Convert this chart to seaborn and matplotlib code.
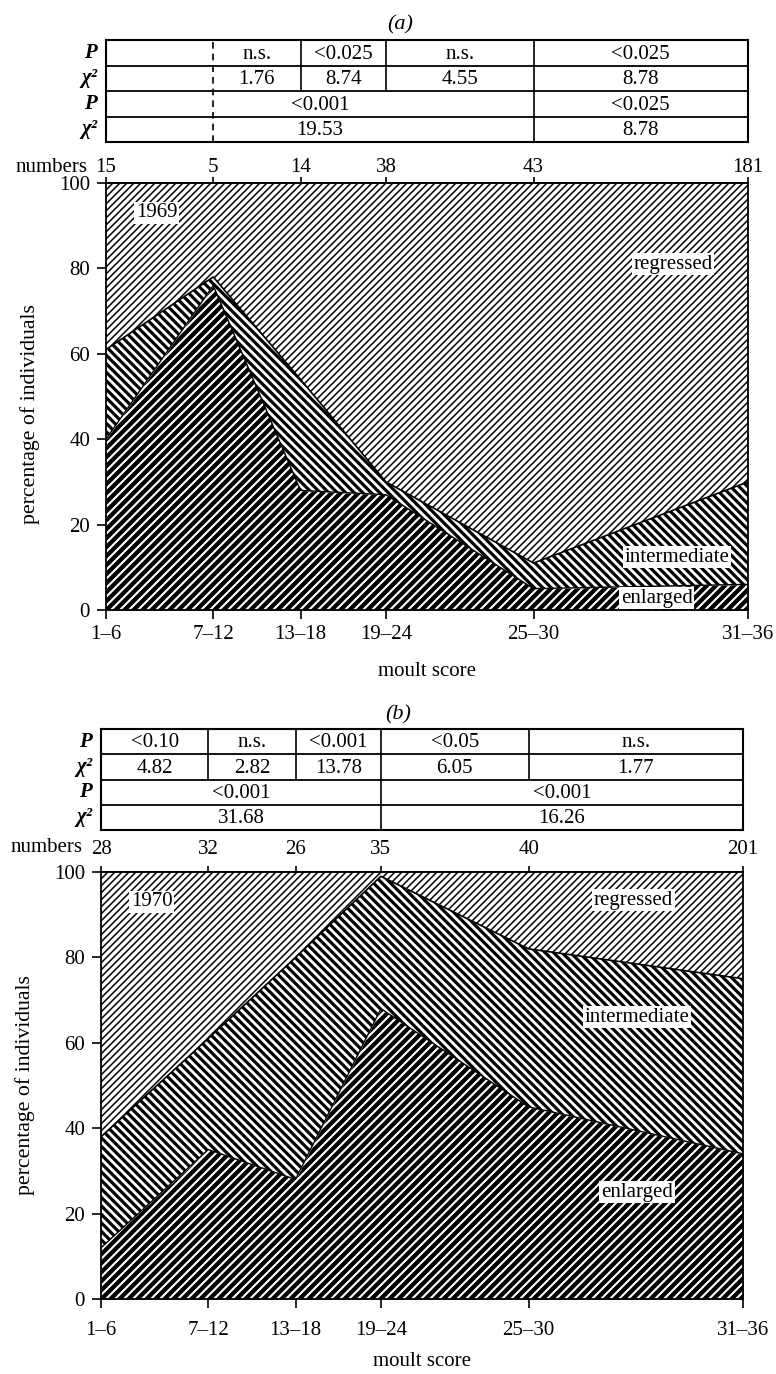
import matplotlib
matplotlib.use("Agg")
import matplotlib.pyplot as plt
from matplotlib.collections import LineCollection
import seaborn as sns

# moult score classes and their (non-linear) positions along the x axis
moult_scores = ["1–6", "7–12", "13–18", "19–24", "25–30", "31–36"]
score_pos = [0.0, 0.167, 0.303, 0.436, 0.666, 1.0]

# 1969 (a)
numbers_1969 = [15, 5, 14, 38, 43, 181]
enlarged_1969 = [40, 76, 28, 27, 5, 6]
intermediate_1969 = [21, 2, 26, 3, 6, 24]

# 1970 (b)
numbers_1970 = [28, 32, 26, 35, 40, 201]
enlarged_1970 = [12, 35, 28, 68, 45, 34]
intermediate_1970 = [26, 26, 52, 31, 37, 41]

# significance tables: texts and the class boundaries (indices into score_pos) they span
p_fine_1969 = ["n.s.", "<0.025", "n.s.", "<0.025"]
chi_fine_1969 = ["1.76", "8.74", "4.55", "8.78"]
fine_edges_1969 = [1, 2, 3, 4, 5]
p_pooled_1969 = ["<0.001", "<0.025"]
chi_pooled_1969 = ["19.53", "8.78"]
pooled_edges_1969 = [0, 4, 5]

p_fine_1970 = ["<0.10", "n.s.", "<0.001", "<0.05", "n.s."]
chi_fine_1970 = ["4.82", "2.82", "13.78", "6.05", "1.77"]
fine_edges_1970 = [0, 1, 2, 3, 4, 5]
p_pooled_1970 = ["<0.001", "<0.001"]
chi_pooled_1970 = ["31.68", "16.26"]
pooled_edges_1970 = [0, 3, 5]

sns.set_theme(style="ticks")
plt.rcParams["font.family"] = ["Liberation Serif", "DejaVu Serif"]
plt.rcParams["axes.linewidth"] = 1.3
plt.rcParams["axes.edgecolor"] = "black"
plt.rcParams["axes.labelcolor"] = "black"
plt.rcParams["text.color"] = "black"
plt.rcParams["xtick.color"] = "black"
plt.rcParams["ytick.color"] = "black"

FS = 15
W, H = 776, 1374


def striped(ax, x, lo, hi, face, color, step, lw, direction):
    # fill a band, then lay 45 degree stripes over it, clipped to the band
    coll = ax.fill_between(x, lo, hi, facecolor=face, linewidth=0)
    bb = ax.get_position()
    w, h = bb.width * W, bb.height * H
    segs = []
    c = -h
    while c < w + h:
        if direction > 0:
            segs.append([(c / w, 0), ((c + h) / w, 1)])
        else:
            segs.append([(c / w, 1), ((c + h) / w, 0)])
        c += step
    lc = LineCollection(segs, colors=color, linewidths=lw,
                        transform=ax.transAxes)
    lc.set_clip_path(coll.get_paths()[0], ax.transData)
    ax.add_collection(lc)


def draw_panel(ax, enlarged, intermediate, numbers, year, labels,
               xpad, toppad, numbers_y, ylab_y, xlabpad):
    x = score_pos
    top = [e + i for e, i in zip(enlarged, intermediate)]
    striped(ax, x, 0, enlarged, "black", "white", 9, 1.5, 1)
    striped(ax, x, enlarged, top, "white", "black", 8.5, 2.3, -1)
    striped(ax, x, top, 100, "white", "black", 7, 1.1, 1)
    sns.lineplot(x=x, y=enlarged, ax=ax, color="black", lw=1.0, legend=False)
    sns.lineplot(x=x, y=top, ax=ax, color="black", lw=1.2, legend=False)

    ax.set_xlim(0, 1)
    ax.set_ylim(0, 100)
    ax.set_xticks(score_pos, labels=moult_scores)
    ax.set_yticks(range(0, 101, 20))
    ax.tick_params(axis="x", direction="out", length=6.5, width=1.2,
                   labelsize=FS, pad=xpad)
    ax.tick_params(axis="y", direction="out", length=6.5, width=1.2,
                   labelsize=FS, pad=5)
    ax.set_xlabel("moult score", fontsize=FS, labelpad=xlabpad)
    ax.set_ylabel("percentage of individuals", fontsize=FS + 0.7)
    ax.yaxis.set_label_coords(-0.103, ylab_y)
    for s in ax.spines.values():
        s.set_visible(True)

    sec = ax.secondary_xaxis("top")
    sec.set_xticks(score_pos, labels=[str(n) for n in numbers])
    sec.tick_params(direction="out", length=4.5, width=1.2, labelsize=FS,
                    pad=toppad)
    ax.text(-0.028, numbers_y, "numbers", transform=ax.transAxes, ha="right",
            va="center", fontsize=FS)

    box = dict(facecolor="white", edgecolor="none", pad=1.2)
    ax.text(0.079, 93, year, ha="center", va="center", fontsize=FS, bbox=box)
    for name, (lx, ly) in labels.items():
        ax.text(lx, ly, name, ha="center", va="center", fontsize=FS, bbox=box)


def draw_table(tab, rows, dashed=None):
    n = len(rows)
    tab.set_xlim(0, 1)
    tab.set_ylim(0, n)
    tab.set_xticks([])
    tab.set_yticks([])
    for s in tab.spines.values():
        s.set_visible(True)
        s.set_linewidth(1.5)
    for i, (label, texts, edges) in enumerate(rows):
        y0 = n - i - 1
        tab.text(-0.014, y0 + 0.5, label, transform=tab.get_yaxis_transform(),
                 ha="right", va="center", fontsize=FS, style="italic",
                 weight="bold")
        for t, a, b in zip(texts, edges[:-1], edges[1:]):
            tab.text((score_pos[a] + score_pos[b]) / 2, y0 + 0.45, t,
                     ha="center", va="center", fontsize=FS)
        for e in edges[1:-1]:
            tab.vlines(score_pos[e], y0, y0 + 1, color="black", lw=1.2)
        if i:
            tab.axhline(y0 + 1, color="black", lw=1.3)
    if dashed is not None:
        tab.vlines(score_pos[dashed], 0, n, color="black", lw=1.2,
                   linestyles=(0, (4, 3)))


fig = plt.figure(figsize=(7.76, 13.74), dpi=100)

ax_a = fig.add_axes([106 / W, 1 - 610 / H, 642 / W, 427 / H])
tab_a = fig.add_axes([106 / W, 1 - 142 / H, 642 / W, 102 / H])
ax_b = fig.add_axes([101 / W, 1 - 1299 / H, 642 / W, 427 / H])
tab_b = fig.add_axes([101 / W, 1 - 830 / H, 642 / W, 101 / H])

draw_panel(ax_a, enlarged_1969, intermediate_1969, numbers_1969, "1969",
           {"regressed": (0.883, 81), "intermediate": (0.889, 12.4),
            "enlarged": (0.858, 2.8)},
           xpad=4, toppad=0, numbers_y=1.036, ylab_y=0.46, xlabpad=13)
draw_panel(ax_b, enlarged_1970, intermediate_1970, numbers_1970, "1970",
           {"regressed": (0.829, 93.4), "intermediate": (0.835, 66),
            "enlarged": (0.835, 25)},
           xpad=9, toppad=4.5, numbers_y=1.058, ylab_y=0.5, xlabpad=9)

draw_table(tab_a, [("P", p_fine_1969, fine_edges_1969),
                   ("χ²", chi_fine_1969, fine_edges_1969),
                   ("P", p_pooled_1969, pooled_edges_1969),
                   ("χ²", chi_pooled_1969, pooled_edges_1969)], dashed=1)
draw_table(tab_b, [("P", p_fine_1970, fine_edges_1970),
                   ("χ²", chi_fine_1970, fine_edges_1970),
                   ("P", p_pooled_1970, pooled_edges_1970),
                   ("χ²", chi_pooled_1970, pooled_edges_1970)])

fig.text(400 / W, 1 - 25 / H, "(a)", style="italic", ha="center",
         va="center", fontsize=FS + 1)
fig.text(398 / W, 1 - 715 / H, "(b)", style="italic", ha="center",
         va="center", fontsize=FS + 1)

fig.savefig("out.png", dpi=100, facecolor="white")
